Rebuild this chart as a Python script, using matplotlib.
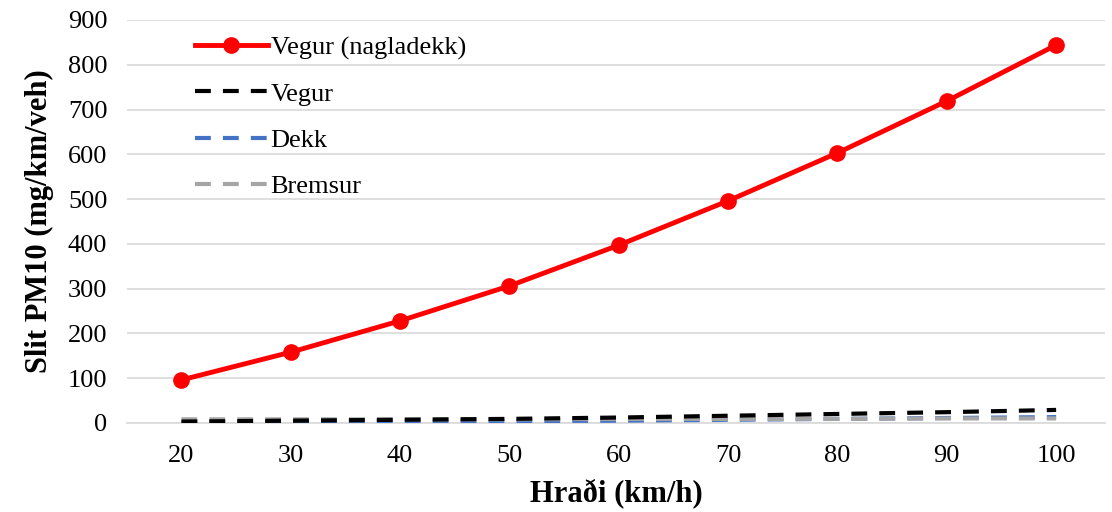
import matplotlib.pyplot as plt
import numpy as np

speed = [20, 30, 40, 50, 60, 70, 80, 90, 100]
vegur_nagla = [96, 158, 228, 306, 397, 496, 603, 719, 844]
vegur = [3, 5, 7, 9, 12, 16, 20, 24, 29]
dekk = [1, 2, 3, 4, 5, 7, 9, 11, 13]
bremsur = [8, 8, 8, 8, 9, 9, 9, 10, 10]

plt.rcParams['font.family'] = ['Liberation Serif', 'DejaVu Serif']

fig = plt.figure(figsize=(11.12, 5.12), dpi=100)
ax = fig.add_axes([0.114, 0.174, 0.88, 0.787])

dash = (0, (3.8, 2.9))
ax.plot(speed, vegur_nagla, color='#ff0000', lw=3.5, marker='o', ms=11,
        label='Vegur (nagladekk)', zorder=5)
ax.plot(speed, vegur, color='black', lw=3, ls=dash, label='Vegur', zorder=4)
ax.plot(speed, dekk, color='#4472c4', lw=3, ls=dash, label='Dekk', zorder=3)
ax.plot(speed, bremsur, color='#a5a5a5', lw=3, ls=dash, label='Bremsur', zorder=3)

ax.set_xlim(15, 104.5)
ax.set_ylim(0, 900)
ax.set_yticks(np.arange(0, 901, 100))
ax.set_xticks(speed)
ax.grid(axis='y', color='#d9d9d9', lw=1.2)
ax.set_axisbelow(True)
for s in ['top', 'right', 'left']:
    ax.spines[s].set_visible(False)
ax.spines['bottom'].set_color('#d9d9d9')
ax.spines['bottom'].set_linewidth(1.2)
ax.tick_params(axis='x', length=0, labelsize=19, pad=16)
ax.tick_params(axis='y', length=0, labelsize=19, pad=14)

ax.set_xlabel('Hraði (km/h)', fontsize=22, fontweight='bold', labelpad=8)
ax.set_ylabel('Slit PM10 (mg/km/veh)', fontsize=22, fontweight='bold', labelpad=10)

ax.legend(loc='upper left', bbox_to_anchor=(0.045, 1.02), frameon=False, fontsize=19,
          handlelength=2.8, handletextpad=0.08, labelspacing=0.86)

fig.savefig('out.png', dpi=100)
